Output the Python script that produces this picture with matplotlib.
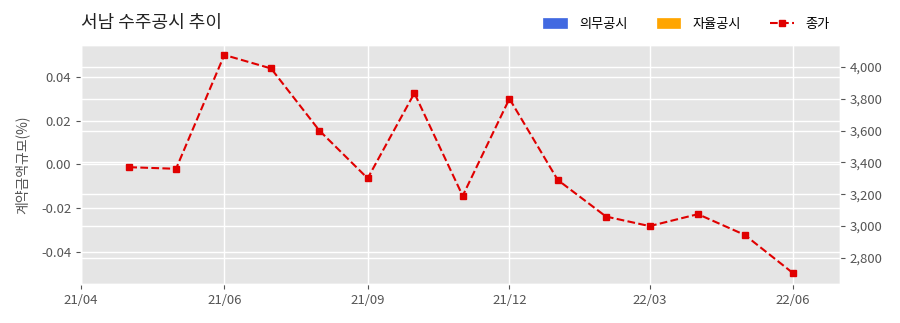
import matplotlib
matplotlib.use("Agg")
import matplotlib.pyplot as plt
import matplotlib.ticker as mticker
from matplotlib.patches import Patch
import pandas as pd

plt.style.use("ggplot")
plt.rcParams['font.family'] = ['Noto Sans CJK KR', 'DejaVu Sans']

# Data
dates = pd.date_range("2021-04-01", "2022-06-01", freq="MS")
close_prices = [3370, 3360, 4075, 3990, 3600, 3300, 3835, 3190, 3800, 3290,
                3060, 3000, 3075, 2945, 2705]
mandatory_dates = []
mandatory_values = []
voluntary_dates = []
voluntary_values = []
tick_dates = pd.to_datetime(["2021-03-01", "2021-06-01", "2021-09-01",
                             "2021-12-01", "2022-03-01", "2022-06-01"])
tick_labels = ["21/04", "21/06", "21/09", "21/12", "22/03", "22/06"]

fig = plt.figure(figsize=(9, 3.23), dpi=100)
ax = fig.add_axes([0.09, 0.121, 0.843, 0.740])
ax2 = ax.twinx()

ax.bar(mandatory_dates, mandatory_values, color="#4169E1", label="의무공시")
ax.bar(voluntary_dates, voluntary_values, color="#FFA500", label="자율공시")
ax2.plot(dates, close_prices, color="#e00000", linestyle="--", marker="s",
         markersize=4.5, linewidth=1.5, label="종가")

ax.set_xlim(pd.Timestamp("2021-03-01"), pd.Timestamp("2022-07-01"))
ax.set_ylim(-0.0546, 0.0546)
ax.yaxis.set_major_locator(mticker.MultipleLocator(0.02))
ax.yaxis.set_major_formatter(mticker.FormatStrFormatter("%.2f"))
ax2.set_ylim(2637, 4138)
ax2.yaxis.set_major_locator(mticker.MultipleLocator(200))
ax2.yaxis.set_major_formatter(mticker.FuncFormatter(lambda v, p: f"{int(v):,}"))

ax.set_xticks(tick_dates)
ax.set_xticklabels(tick_labels)

ax.set_ylabel("계약금액규모(%)", color="#555555", fontsize=10, labelpad=8)
for a in (ax, ax2):
    a.tick_params(colors="#555555", labelsize=9.5)
    a.tick_params(axis='both', labelcolor="#555555")
ax2.grid(True, color="white", linewidth=1)
ax.grid(True, color="white", linewidth=1)

fig.text(0.09, 0.93, "서남 수주공시 추이", fontsize=13, color="#222222",
         ha="left", va="center")

h2, l2 = ax2.get_legend_handles_labels()
handles = [Patch(color="#4169E1"), Patch(color="#FFA500"), h2[0]]
labels = ["의무공시", "자율공시", "종가"]
fig.legend(handles, labels, loc="center right", bbox_to_anchor=(0.935, 0.925),
           ncol=3, frameon=False, fontsize=9.5, handlelength=1.8,
           columnspacing=2.2, handletextpad=0.9)

fig.savefig("out.png", dpi=100)
